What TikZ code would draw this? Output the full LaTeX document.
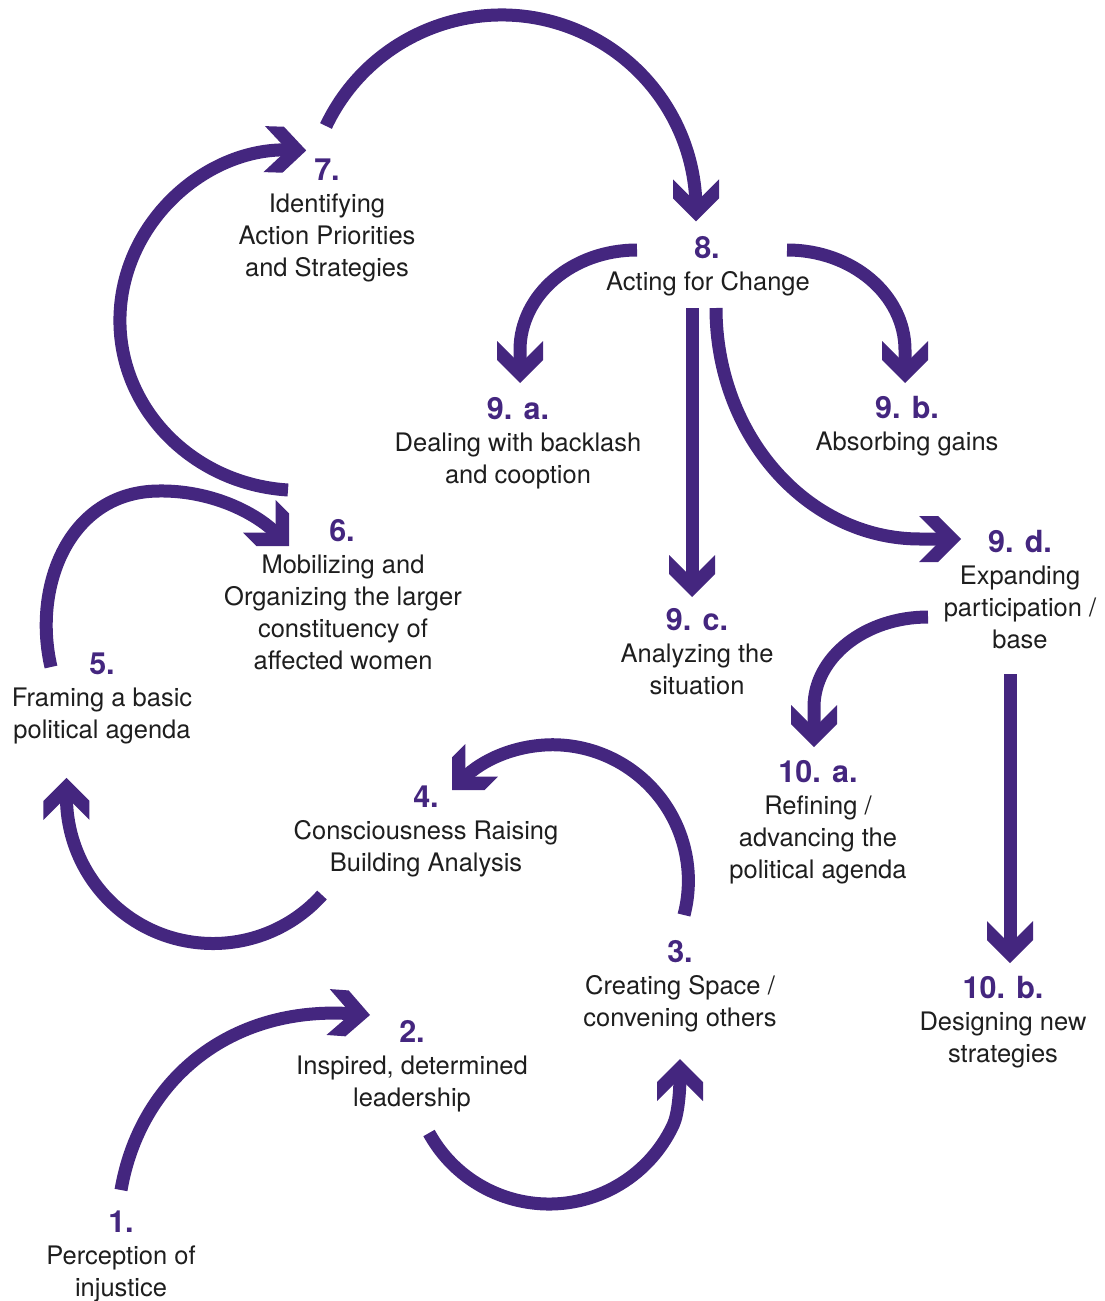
\documentclass[tikz,border=0pt]{standalone}
\usepackage{fontspec}
\setmainfont{TeX Gyre Heros}
\usetikzlibrary{arrows.meta}
\definecolor{pur}{RGB}{68,38,127}
\definecolor{txt}{RGB}{30,30,30}
\pgfdeclarearrow{
  name=Chev,
  setup code={
    \pgfarrowssettipend{0pt}
    \pgfarrowssetbackend{-42pt}
    \pgfarrowssetlineend{-17pt}
    \pgfarrowshullpoint{0pt}{0pt}
    \pgfarrowshullpoint{-42pt}{23pt}
    \pgfarrowshullpoint{-42pt}{-23pt}
  },
  drawing code={
    \pgfpathmoveto{\pgfqpoint{0pt}{0pt}}
    \pgfpathlineto{\pgfqpoint{-23pt}{23pt}}
    \pgfpathlineto{\pgfqpoint{-42pt}{23pt}}
    \pgfpathlineto{\pgfqpoint{-19pt}{0pt}}
    \pgfpathlineto{\pgfqpoint{-42pt}{-23pt}}
    \pgfpathlineto{\pgfqpoint{-23pt}{-23pt}}
    \pgfpathclose
    \pgfusepathqfill
  },
  defaults={}
}
\begin{document}
\begin{tikzpicture}[x=1pt,y=1pt,
  flow/.style={line width=13pt, pur, -{Chev}},
  num/.style={anchor=base, inner sep=0pt, font=\fontsize{30.5}{32}\selectfont\bfseries, text=pur},
  lbl/.style={anchor=base, inner sep=0pt, font=\fontsize{25.5}{32}\selectfont, text=txt}]
\useasboundingbox (0,0) rectangle (1104,-1301);

% ---------- labels ----------
\node[num] (n1) at (121,-1232) {1.};
\node[lbl] (t1a) at (121,-1264) {Perception of};
\node[lbl] (t1b) at (121,-1296) {injustice};

\node[num] (n2) at (412,-1042) {2.};
\node[lbl] (t2a) at (412,-1074) {Inspired, determined};
\node[lbl] (t2b) at (412,-1106) {leadership};

\node[num] (n3) at (680,-962) {3.};
\node[lbl] (t3a) at (680,-994) {Creating Space /};
\node[lbl] (t3b) at (680,-1026) {convening others};

\node[num] (n4) at (426,-807) {4.};
\node[lbl] (t4a) at (426,-839) {Consciousness Raising};
\node[lbl] (t4b) at (426,-871) {Building Analysis};

\node[num] (n5) at (102,-674) {5.};
\node[lbl] (t5a) at (102,-706) {Framing a basic};
\node[lbl] (t5b) at (102,-738) {political agenda};

\node[num] (n6) at (342,-541) {6.};
\node[lbl] (t6a) at (343,-573) {Mobilizing and};
\node[lbl] (t6b) at (343,-605) {Organizing the larger};
\node[lbl] (t6c) at (343,-637) {constituency of};
\node[lbl] (t6d) at (343,-669) {affected women};

\node[num] (n7) at (327,-180) {7.};
\node[lbl] (t7a) at (327,-212) {Identifying};
\node[lbl] (t7b) at (327,-244) {Action Priorities};
\node[lbl] (t7c) at (327,-276) {and Strategies};

\node[num] (n8) at (707,-258) {8.};
\node[lbl] (t8a) at (708,-290) {Acting for Change};

\node[num] (n9a) at (518,-419) {9. a.};
\node[lbl] (t9aa) at (518,-451) {Dealing with backlash};
\node[lbl] (t9ab) at (518,-483) {and cooption};

\node[num] (n9b) at (907,-418) {9. b.};
\node[lbl] (t9ba) at (907,-450) {Absorbing gains};

\node[num] (n9c) at (697,-630) {9. c.};
\node[lbl] (t9ca) at (697,-662) {Analyzing the};
\node[lbl] (t9cb) at (697,-694) {situation};

\node[num] (n9d) at (1020,-552) {9. d.};
\node[lbl] (t9da) at (1020,-584) {Expanding};
\node[lbl] (t9db) at (1020,-616) {participation /};
\node[lbl] (t9dc) at (1020,-648) {base};

\node[num] (n10a) at (818,-782) {10. a.};
\node[lbl] (t10aa) at (818,-814) {Refining /};
\node[lbl] (t10ab) at (818,-846) {advancing the};
\node[lbl] (t10ac) at (818,-878) {political agenda};

\node[num] (n10b) at (1003,-998) {10. b.};
\node[lbl] (t10ba) at (1003,-1030) {Designing new};
\node[lbl] (t10bb) at (1003,-1062) {strategies};

% ---------- connector end points ----------
\coordinate (s12) at (121,-1190);
\coordinate (e12) at (370,-1015);
\coordinate (s23) at (429,-1133);
\coordinate (e23) at (680,-1059);
\coordinate (s34) at (684,-915);
\coordinate (e34) at (452,-790);
\coordinate (s45) at (322,-895);
\coordinate (s56) at (51,-667);
\coordinate (e56) at (289,-546);
\coordinate (s67) at (288,-490);
\coordinate (s78) at (326,-126);
\coordinate (s89a) at (637,-250);
\coordinate (s89b) at (787,-250);
\coordinate (s89c) at (692,-308);
\coordinate (e89c) at (692,-597);
\coordinate (s89d) at (716,-308);
\coordinate (s9d10a) at (928,-617);
\coordinate (s9d10b) at (1010,-674);
\coordinate (e9d10b) at (1010,-963);

% ---------- connectors ----------
% 1 -> 2
\draw[flow] (s12) .. controls (140,-1080) and (230,-1005) .. (e12);
% 2 -> 3
\draw[flow] (s23) arc[start angle=208.8, end angle=335, radius=137]
  .. controls (678.3,-1114) and (680,-1090) .. (e23);
% 3 -> 4
\draw[flow] (s34) arc[start angle=-14.6, end angle=90, radius=136]
  .. controls (515,-745) and (482,-760) .. (e34);
% 4 -> 5
\draw[flow] (s45) arc[start angle=-42, end angle=-180, radius=146.6] -- ++(0,19);
% 5 -> 6
\draw[flow] (s56) .. controls (32,-585) and (70,-492) .. (158,-491)
  .. controls (210,-490) and (255,-512) .. (e56);
% 6 -> 7
\draw[flow] (s67) arc[start angle=266.2, end angle=88, x radius=180, y radius=170];
% 7 -> 8
\draw[flow] (s78) arc[start angle=154.6, end angle=0, radius=194.4] -- ++(0,-12);
% 8 -> 9a
\draw[flow] (s89a) arc[start angle=90, end angle=180, x radius=117, y radius=100] -- ++(0,-33);
% 8 -> 9b
\draw[flow] (s89b) arc[start angle=90, end angle=0, x radius=118, y radius=100] -- ++(0,-33);
% 8 -> 9c
\draw[flow] (s89c) -- (e89c);
% 8 -> 9d
\draw[flow] (s89d) arc[start angle=180, end angle=270, x radius=204, y radius=231] -- ++(41,0);
% 9d -> 10a
\draw[flow] (s9d10a) arc[start angle=90, end angle=180, x radius=114, y radius=90] -- ++(0,-40);
% 9d -> 10b
\draw[flow] (s9d10b) -- (e9d10b);
\end{tikzpicture}
\end{document}
